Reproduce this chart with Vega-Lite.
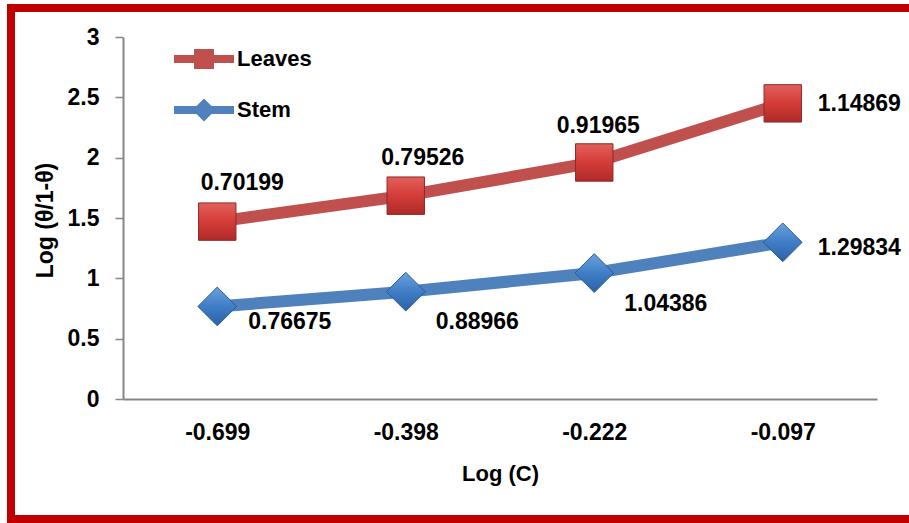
{
  "$schema": "https://vega.github.io/schema/vega-lite/v6.json",
  "autosize": "none",
  "width": 898,
  "height": 511,
  "padding": {"left": 11, "top": 8, "right": 0, "bottom": 4},
  "background": "white",
  "config": {
    "view": {"stroke": null},
    "font": "Liberation Sans"
  },
  "data": {
    "values": [
      {"logc": "-0.699", "series": "Leaves", "value": 1.47, "label": "0.70199"},
      {"logc": "-0.398", "series": "Leaves", "value": 1.685, "label": "0.79526"},
      {"logc": "-0.222", "series": "Leaves", "value": 1.96, "label": "0.91965"},
      {"logc": "-0.097", "series": "Leaves", "value": 2.45, "label": "1.14869"},
      {"logc": "-0.699", "series": "Stem", "value": 0.76675, "label": "0.76675"},
      {"logc": "-0.398", "series": "Stem", "value": 0.88966, "label": "0.88966"},
      {"logc": "-0.222", "series": "Stem", "value": 1.04386, "label": "1.04386"},
      {"logc": "-0.097", "series": "Stem", "value": 1.29834, "label": "1.29834"}
    ]
  },
  "layer": [
    {
      "data": {"values": [{"edge": "top"}]},
      "mark": {"type": "rule", "color": "#C00000", "strokeWidth": 8, "strokeCap": "butt"},
      "encoding": {"y": {"value": 0}}
    },
    {
      "data": {"values": [{"edge": "bottom"}]},
      "mark": {"type": "rule", "color": "#C00000", "strokeWidth": 8, "strokeCap": "butt"},
      "encoding": {"y": {"value": "height"}}
    },
    {
      "data": {"values": [{"edge": "left"}]},
      "mark": {"type": "rule", "color": "#C00000", "strokeWidth": 8, "strokeCap": "square"},
      "encoding": {"x": {"value": 0}}
    },
    {
      "encoding": {
        "x": {
          "field": "logc",
          "type": "ordinal",
          "sort": ["-0.699", "-0.398", "-0.222", "-0.097"],
          "scale": {"type": "point", "range": [112, 866], "padding": 0.5},
          "axis": {
            "orient": "bottom",
            "offset": -120,
            "ticks": false,
            "grid": false,
            "labelAngle": 0,
            "labelPadding": 22,
            "labelFontSize": 23,
            "labelFontWeight": "bold",
            "labelColor": "black",
            "domainColor": "#868686",
            "domainWidth": 2,
            "title": "Log (C)",
            "titleFontSize": 22,
            "titleFontWeight": "bold",
            "titleColor": "black",
            "titleY": 74,
            "titleBaseline": "middle"
          }
        },
        "y": {
          "field": "value",
          "type": "quantitative",
          "scale": {"domain": [0, 3], "range": [391, 29], "nice": false, "zero": false},
          "axis": {
            "orient": "left",
            "offset": -112,
            "values": [0, 0.5, 1, 1.5, 2, 2.5, 3],
            "format": "~g",
            "grid": false,
            "tickSize": 8,
            "tickWidth": 1.5,
            "tickColor": "#868686",
            "domainColor": "#868686",
            "domainWidth": 2,
            "labelPadding": 16,
            "labelFontSize": 23,
            "labelFontWeight": "bold",
            "labelColor": "black",
            "title": "Log (θ/1-θ)",
            "titleFontSize": 23,
            "titleFontWeight": "bold",
            "titleColor": "black",
            "titleAngle": -90,
            "titleX": -78,
            "titleY": 212,
            "titleAlign": "center",
            "titleBaseline": "middle"
          }
        }
      },
      "layer": [
        {
          "mark": {"type": "line", "strokeWidth": 12, "strokeCap": "butt"},
          "encoding": {
            "color": {
              "field": "series",
              "type": "nominal",
              "scale": {"domain": ["Leaves", "Stem"], "range": ["#C0504D", "#4F81BD"]},
              "legend": {
                "orient": "none",
                "legendX": 182,
                "legendY": 40,
                "title": null,
                "padding": 0,
                "symbolSize": 400,
                "symbolStrokeWidth": 0,
                "symbolOpacity": 1,
                "labelFontSize": 22,
                "labelFontWeight": "bold",
                "labelColor": "black",
                "labelOffset": 22,
                "rowPadding": 28
              }
            }
          }
        },
        {
          "transform": [{"filter": "datum.series == 'Leaves'"}],
          "mark": {
            "type": "point",
            "shape": "square",
            "size": 1400,
            "filled": true,
            "opacity": 1,
            "fill": {"gradient": "linear", "x1": 0, "y1": 0, "x2": 0, "y2": 1,
              "stops": [{"offset": 0, "color": "#E2605B"}, {"offset": 0.5, "color": "#D43C38"}, {"offset": 1, "color": "#AE2B28"}]},
            "stroke": "#8B2A27",
            "strokeWidth": 1
          }
        },
        {
          "transform": [{"filter": "datum.series == 'Stem'"}],
          "mark": {
            "type": "point",
            "shape": "diamond",
            "size": 1500,
            "filled": true,
            "opacity": 1,
            "fill": {"gradient": "linear", "x1": 0, "y1": 0, "x2": 0, "y2": 1,
              "stops": [{"offset": 0, "color": "#6AA2E0"}, {"offset": 0.5, "color": "#3F7DC6"}, {"offset": 1, "color": "#2C62A6"}]},
            "stroke": "#2B5A94",
            "strokeWidth": 1
          }
        },
        {
          "transform": [{"filter": "datum.series == 'none'"}],
          "mark": {"type": "point", "filled": true, "opacity": 1},
          "encoding": {
            "color": {
              "field": "series",
              "type": "nominal",
              "legend": {
                "orient": "none",
                "legendX": 182,
                "legendY": 40,
                "title": null,
                "padding": 0,
                "symbolSize": 400,
                "symbolStrokeWidth": 0,
                "symbolOpacity": 1,
                "labelFontSize": 22,
                "labelFontWeight": "bold",
                "labelColor": "black",
                "labelOffset": 22,
                "rowPadding": 28
              }
            },
            "shape": {
              "field": "series",
              "type": "nominal",
              "scale": {
                "domain": ["Leaves", "Stem"],
                "range": [
                  "M-3,-0.4L3,-0.4L3,0.4L-3,0.4Z M-1,-1L1,-1L1,1L-1,1Z",
                  "M-3,-0.4L3,-0.4L3,0.4L-3,0.4Z M0,-1.15L1.15,0L0,1.15L-1.15,0Z"
                ]
              },
              "legend": {
                "orient": "none",
                "legendX": 182,
                "legendY": 40,
                "title": null,
                "padding": 0,
                "symbolSize": 400,
                "symbolStrokeWidth": 0,
                "symbolOpacity": 1,
                "labelFontSize": 22,
                "labelFontWeight": "bold",
                "labelColor": "black",
                "labelOffset": 22,
                "rowPadding": 28
              }
            }
          }
        },
        {
          "transform": [{"filter": "datum.series == 'Leaves' && datum.logc == '-0.699'"}],
          "mark": {"type": "text", "align": "center", "baseline": "middle", "dx": 25, "dy": -39, "fontSize": 23, "fontWeight": "bold", "color": "black"},
          "encoding": {"text": {"field": "label"}}
        },
        {
          "transform": [{"filter": "datum.series == 'Leaves' && datum.logc == '-0.398'"}],
          "mark": {"type": "text", "align": "center", "baseline": "middle", "dx": 17, "dy": -38, "fontSize": 23, "fontWeight": "bold", "color": "black"},
          "encoding": {"text": {"field": "label"}}
        },
        {
          "transform": [{"filter": "datum.series == 'Leaves' && datum.logc == '-0.222'"}],
          "mark": {"type": "text", "align": "center", "baseline": "middle", "dx": 4, "dy": -36, "fontSize": 23, "fontWeight": "bold", "color": "black"},
          "encoding": {"text": {"field": "label"}}
        },
        {
          "transform": [{"filter": "datum.series == 'Leaves' && datum.logc == '-0.097'"}],
          "mark": {"type": "text", "align": "left", "baseline": "middle", "dx": 35, "dy": 1, "fontSize": 23, "fontWeight": "bold", "color": "black"},
          "encoding": {"text": {"field": "label"}}
        },
        {
          "transform": [{"filter": "datum.series == 'Stem' && datum.logc == '-0.699'"}],
          "mark": {"type": "text", "align": "left", "baseline": "middle", "dx": 31, "dy": 16, "fontSize": 23, "fontWeight": "bold", "color": "black"},
          "encoding": {"text": {"field": "label"}}
        },
        {
          "transform": [{"filter": "datum.series == 'Stem' && datum.logc == '-0.398'"}],
          "mark": {"type": "text", "align": "left", "baseline": "middle", "dx": 30, "dy": 30, "fontSize": 23, "fontWeight": "bold", "color": "black"},
          "encoding": {"text": {"field": "label"}}
        },
        {
          "transform": [{"filter": "datum.series == 'Stem' && datum.logc == '-0.222'"}],
          "mark": {"type": "text", "align": "left", "baseline": "middle", "dx": 30, "dy": 31, "fontSize": 23, "fontWeight": "bold", "color": "black"},
          "encoding": {"text": {"field": "label"}}
        },
        {
          "transform": [{"filter": "datum.series == 'Stem' && datum.logc == '-0.097'"}],
          "mark": {"type": "text", "align": "left", "baseline": "middle", "dx": 35, "dy": 6, "fontSize": 23, "fontWeight": "bold", "color": "black"},
          "encoding": {"text": {"field": "label"}}
        }
      ]
    }
  ]
}
